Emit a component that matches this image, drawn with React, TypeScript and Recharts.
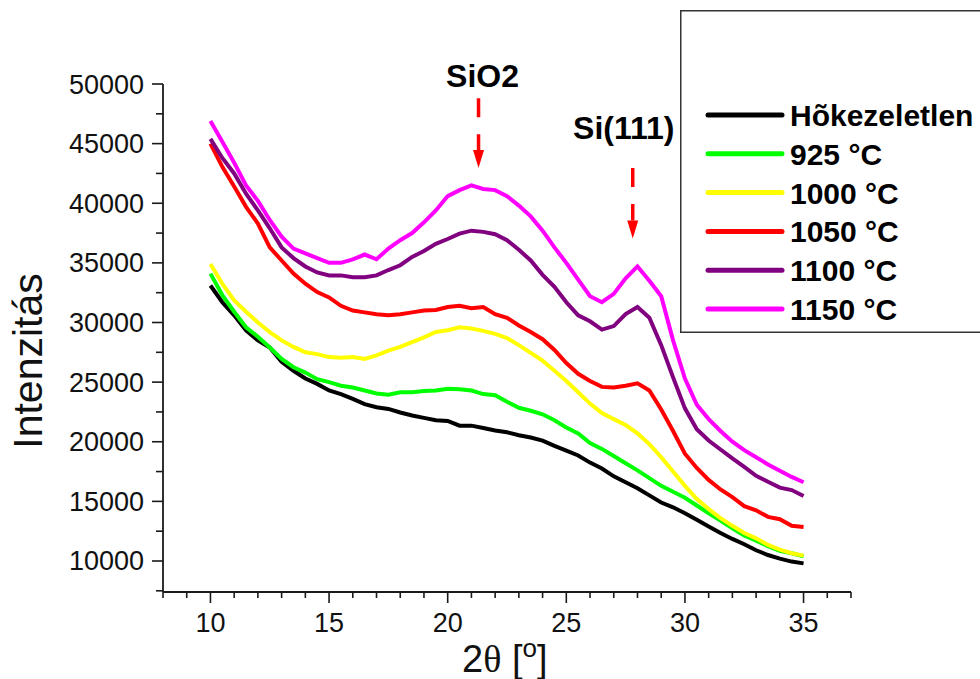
import { LineChart, Line, XAxis, YAxis, ReferenceLine, Legend, Label } from 'recharts';

// 2θ positions (degrees) of the sampled points
const twoTheta = [
  10, 10.5, 11, 11.5, 12, 12.5, 13, 13.5, 14, 14.5, 15, 15.5, 16, 16.5, 17, 17.5, 18, 18.5, 19, 19.5,
  20, 20.5, 21, 21.5, 22, 22.5, 23, 23.5, 24, 24.5, 25, 25.5, 26, 26.5, 27, 27.5, 28, 28.5, 29, 29.5,
  30, 30.5, 31, 31.5, 32, 32.5, 33, 33.5, 34, 34.5, 35,
];

const untreated = [
  33100, 31700, 30600, 29350, 28500, 27900, 26700, 25950, 25300, 24850, 24300, 24000, 23600, 23150, 22900, 22750, 22450, 22200, 22000, 21800,
  21750, 21350, 21350, 21150, 20950, 20800, 20550, 20350, 20100, 19650, 19250, 18850, 18250, 17750, 17100, 16600, 16100, 15500, 14900, 14500,
  14000, 13450, 12900, 12350, 11850, 11400, 10900, 10500, 10200, 9950, 9800,
];

const t925 = [
  34100, 32300, 30900, 29600, 28800, 27900, 26950, 26250, 25800, 25250, 25000, 24700, 24550, 24300, 24050, 23950, 24150, 24150, 24250, 24300,
  24450, 24400, 24300, 24000, 23900, 23350, 22850, 22600, 22300, 21800, 21200, 20700, 19900, 19400, 18800, 18200, 17600, 16950, 16300, 15800,
  15300, 14650, 14000, 13400, 12750, 12150, 11700, 11250, 10850, 10650, 10400,
];

const t1000 = [
  34900, 33250, 31850, 30900, 30000, 29200, 28500, 27950, 27500, 27350, 27100, 27050, 27100, 26950, 27250, 27650, 27950, 28350, 28750, 29200,
  29350, 29600, 29500, 29300, 29050, 28700, 28100, 27450, 26800, 25950, 25100, 24150, 23200, 22400, 21900, 21400, 20700, 19800, 18700, 17500,
  16300, 15200, 14350, 13600, 12950, 12350, 11900, 11350, 10950, 10650, 10450,
];

const t1050 = [
  45000, 43050, 41400, 39700, 38300, 36300, 35200, 34100, 33250, 32550, 32100, 31400, 31000, 30850, 30700, 30600, 30700, 30850, 31000, 31050,
  31300, 31400, 31200, 31300, 30700, 30400, 29750, 29200, 28600, 27700, 26600, 25700, 25100, 24600, 24550, 24700, 24900, 24300, 22700, 20900,
  19000, 17800, 16800, 16000, 15350, 14600, 14250, 13700, 13500, 12950, 12850,
];

const t1100 = [
  45400, 43800, 42500, 40800, 39400, 37900, 36300, 35400, 34700, 34200, 33950, 33950, 33800, 33800, 33950, 34400, 34800, 35500, 36000, 36600,
  37000, 37450, 37700, 37600, 37400, 36900, 36100, 35200, 34000, 33000, 31700, 30600, 30100, 29400, 29700, 30700, 31300, 30400, 28100, 25400,
  22800, 21050, 20100, 19350, 18600, 17900, 17150, 16650, 16150, 15950, 15450,
];

const t1150 = [
  46900, 45150, 43400, 41500, 40200, 38600, 37200, 36200, 35800, 35400, 35000, 35000, 35300, 35700, 35300, 36200, 36900, 37500, 38400, 39400,
  40600, 41100, 41500, 41200, 41100, 40600, 39800, 38900, 37700, 36300, 35000, 33600, 32200, 31700, 32400, 33700, 34700, 33500, 32200, 28500,
  25300, 23100, 21900, 20900, 20000, 19300, 18700, 18100, 17560, 17050, 16600,
];

const seriesNames = ['Hõkezeletlen', '925 °C', '1000 °C', '1050 °C', '1100 °C', '1150 °C'];
const seriesValues = [untreated, t925, t1000, t1050, t1100, t1150];
const seriesColors = ['#000000', '#00ff00', '#ffff00', '#ff0000', '#800080', '#ff00ff'];

const xTicks = [8, 9, 10, 11, 12, 13, 14, 15, 16, 17, 18, 19, 20, 21, 22, 23, 24, 25, 26, 27, 28, 29, 30, 31, 32, 33, 34, 35, 36, 37];
const yTicks = [
  7500, 10000, 12500, 15000, 17500, 20000, 22500, 25000, 27500, 30000, 32500, 35000, 37500, 40000, 42500, 45000, 47500, 50000,
];

// peak markers: label, 2θ, arrow start and arrow tip (intensity)
const peakLabels = ['SiO2', 'Si(111)'];
const peakPositions = [21.3, 27.8];
const arrowTops = [48800, 42950];
const arrowTips = [42950, 37050];

const rows = twoTheta.map((t, i) => {
  const row: Record<string, number> = { t };
  seriesValues.forEach((vals, s) => {
    row[`s${s}`] = vals[i];
  });
  return row;
});

const FONT = '"Liberation Sans", Arial, sans-serif';
const AXIS = '#1a1a1a';

// label placement relative to the arrow start, in px
const peakLabelOffset = [
  { dx: 4, dy: -11 },
  { dx: -9, dy: -29 },
];

function YTick(props: any) {
  const { x, y, payload } = props;
  const major = payload.value % 5000 === 0;
  return (
    <g>
      <line x1={x - (major ? 11 : 7)} x2={x} y1={y} y2={y} stroke={AXIS} strokeWidth={1.6} />
      {major && (
        <text x={x - 19} y={y + 9.5} textAnchor="end" fontFamily={FONT} fontSize={27} fill="#111">
          {payload.value}
        </text>
      )}
    </g>
  );
}

function XTick(props: any) {
  const { x, y, payload } = props;
  const major = payload.value % 5 === 0;
  return (
    <g>
      <line x1={x} x2={x} y1={y} y2={y + (major ? 11 : 6)} stroke={AXIS} strokeWidth={1.6} />
      {major && (
        <text x={x} y={y + 40} textAnchor="middle" fontFamily={FONT} fontSize={27} fill="#111">
          {payload.value}
        </text>
      )}
    </g>
  );
}

function PeakArrow(props: any) {
  const { x1, y1, y2, text, dx, dy } = props;
  const head = 18;
  return (
    <g>
      <line x1={x1} x2={x1} y1={y1} y2={y2 - head} stroke="#ff0000" strokeWidth={3.5} strokeDasharray="19 17" />
      <polygon points={`${x1 - 5.5},${y2 - head} ${x1 + 5.5},${y2 - head} ${x1},${y2}`} fill="#ff0000" />
      <text x={x1 + dx} y={y1 + dy} textAnchor="middle" fontFamily={FONT} fontWeight="bold" fontSize={32} fill="#000">
        {text}
      </text>
    </g>
  );
}

// legend box drawn in series order
function LegendBox() {
  return (
    <svg width={300} height={324} style={{ display: 'block' }}>
      <rect x={0.75} y={0.75} width={330} height={321.5} fill="#fff" stroke="#333" strokeWidth={1.5} />
      {seriesNames.map((name, i) => {
        const cy = 105 + i * 38.8;
        return (
          <g key={name}>
            <line x1={28} x2={102} y1={cy} y2={cy} stroke={seriesColors[i]} strokeWidth={5} strokeLinecap="round" />
            <text x={110} y={cy + 11} fontFamily={FONT} fontWeight="bold" fontSize={30} fill="#000">
              {name}
            </text>
          </g>
        );
      })}
    </svg>
  );
}

export default function App() {
  return (
    <div style={{ position: 'absolute', left: 0, top: 0, width: 980, height: 679, background: '#fff' }}>
      <LineChart width={980} height={679} data={rows} margin={{ top: 84, right: 129, bottom: 47, left: 103 }}>
        <XAxis
          dataKey="t"
          type="number"
          domain={[8, 37]}
          ticks={xTicks}
          interval={0}
          height={40}
          tickSize={0}
          tickMargin={0}
          tickLine={false}
          tick={<XTick />}
          axisLine={{ stroke: AXIS, strokeWidth: 1.8 }}
        >
          <Label
            content={() => (
              <text x={462} y={672} fontFamily={FONT} fontSize={38} fill="#111">
                2<tspan fontFamily='"Liberation Serif", serif'>θ</tspan> [
                <tspan fontSize={26} dy={-15}>o</tspan>
                <tspan dy={15}>]</tspan>
              </text>
            )}
          />
        </XAxis>
        <YAxis
          type="number"
          domain={[7400, 50000]}
          ticks={yTicks}
          interval={0}
          width={60}
          tickSize={0}
          tickMargin={0}
          tickLine={false}
          tick={<YTick />}
          axisLine={{ stroke: AXIS, strokeWidth: 1.8 }}
        >
          <Label
            content={() => (
              <text
                x={42}
                y={361}
                transform="rotate(-90 42 361)"
                textAnchor="middle"
                fontFamily={FONT}
                fontSize={41}
                fill="#111"
              >
                Intenzitás
              </text>
            )}
          />
        </YAxis>
        <Legend
          layout="vertical"
          align="center"
          verticalAlign="middle"
          wrapperStyle={{ left: 680, top: 10, width: 300, height: 324 }}
          content={<LegendBox />}
        />
        {seriesNames.map((name, s) => (
          <Line
            key={name}
            name={name}
            dataKey={`s${s}`}
            type="linear"
            stroke={seriesColors[s]}
            strokeWidth={4}
            dot={false}
            activeDot={false}
            isAnimationActive={false}
          />
        ))}
        {peakLabels.map((text, i) => (
          <ReferenceLine
            key={text}
            segment={[
              { x: peakPositions[i], y: arrowTops[i] },
              { x: peakPositions[i], y: arrowTips[i] },
            ]}
            ifOverflow="visible"
            shape={(p: any) => <PeakArrow {...p} text={text} dx={peakLabelOffset[i].dx} dy={peakLabelOffset[i].dy} />}
          />
        ))}
      </LineChart>
    </div>
  );
}
